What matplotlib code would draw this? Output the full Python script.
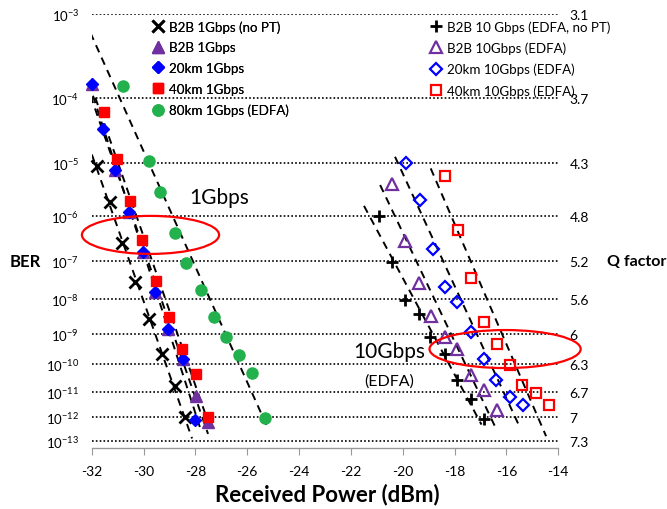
import numpy as np
import matplotlib
matplotlib.use('Agg')
import matplotlib.pyplot as plt
from matplotlib.patches import Ellipse

plt.rcParams['font.family'] = ['Lato', 'DejaVu Sans']
plt.rcParams['mathtext.fontset'] = 'custom'
plt.rcParams['mathtext.rm'] = 'Lato'
plt.rcParams['mathtext.it'] = 'Lato:italic'
plt.rcParams['mathtext.bf'] = 'Lato:bold'

# ---------------- data (BER given as log10 exponent) ----------------
b2b1_nopt_x   = [-31.81, -31.29, -30.84, -30.33, -29.78, -29.30, -28.78, -28.40]
b2b1_nopt_exp = [-5.05, -5.73, -6.59, -7.54, -8.56, -9.65, -10.76, -12.00]

b2b1_x   = [-32.00, -31.10, -30.55, -30.03, -29.56, -29.04, -28.46, -27.97, -27.50]
b2b1_exp = [-3.82, -5.13, -5.93, -6.79, -7.81, -8.86, -9.82, -11.14, -12.21]

km20_1_x   = [-32.00, -31.55, -31.10, -30.55, -30.03, -29.56, -29.04, -28.46, -28.01]
km20_1_exp = [-3.82, -4.46, -5.13, -5.93, -6.79, -7.81, -8.86, -9.82, -12.10]

km40_1_x   = [-31.52, -31.01, -30.52, -30.07, -29.53, -29.00, -28.53, -27.97, -27.50]
km40_1_exp = [-4.20, -4.94, -5.70, -6.52, -7.52, -8.51, -9.49, -10.34, -12.00]

km80_1_x   = [-30.80, -29.80, -29.35, -28.80, -28.35, -27.80, -27.30, -26.80, -26.30, -25.80, -25.30]
km80_1_exp = [-3.84, -4.98, -5.53, -6.37, -7.06, -7.74, -8.51, -9.11, -9.68, -10.31, -12.03]

b2b10_nopt_x   = [-20.90, -20.42, -19.90, -19.39, -18.94, -18.36, -17.91, -17.37, -16.88]
b2b10_nopt_exp = [-6.01, -7.03, -8.01, -8.41, -9.11, -9.65, -10.55, -11.27, -12.07]

b2b10_x   = [-20.42, -19.90, -19.39, -18.91, -18.36, -17.91, -17.36, -16.88, -16.36]
b2b10_exp = [-5.38, -6.54, -7.56, -8.46, -9.11, -9.47, -10.37, -10.91, -11.69]

km20_10_x   = [-19.86, -19.35, -18.83, -18.36, -17.91, -17.37, -16.88, -16.39, -15.85, -15.36]
km20_10_exp = [-5.01, -5.68, -6.73, -7.67, -8.08, -8.94, -9.82, -10.55, -11.20, -11.50]

km40_10_x   = [-18.36, -17.88, -17.37, -16.88, -16.36, -15.85, -15.40, -14.85, -14.37]
km40_10_exp = [-5.23, -6.30, -7.44, -8.64, -9.32, -10.02, -10.74, -11.04, -11.50]

labels = ['B2B 1Gbps (no PT)', 'B2B 1Gbps', '20km 1Gbps', '40km 1Gbps',
          '80km 1Gbps (EDFA)', 'B2B 10 Gbps (EDFA, no PT)', 'B2B 10Gbps (EDFA)',
          '20km 10Gbps (EDFA)', '40km 10Gbps (EDFA)']

ber_ticks = [1e-3, 1e-4, 1e-5, 1e-6, 1e-7, 1e-8, 1e-9, 1e-10, 1e-11, 1e-12, 1e-13]
ber_tick_labels = [r'$10^{-%d}$' % k for k in range(3, 14)]
q_labels = ['3.1', '3.7', '4.3', '4.8', '5.2', '5.6', '6', '6.3', '6.7', '7', '7.3']
x_ticks = [-32, -30, -28, -26, -24, -22, -20, -18, -16, -14]

# ---------------- scale (Q-factor scale: -log10(-log10(BER))) ----------------
def fwd(y):
    y = np.clip(np.asarray(y, dtype=float), 1e-300, 1 - 1e-12)
    return -np.log10(-np.log10(y))

def inv(u):
    u = np.asarray(u, dtype=float)
    return 10.0 ** (-(10.0 ** (-u)))

PURPLE = '#7030A0'
BLUE = '#0000FF'
RED = '#FF0000'
GREEN = '#22B14C'

fig = plt.figure(figsize=(6.67, 5.10), dpi=100)
ax = fig.add_axes([0.1375, 0.1196, 0.6995, 0.851])
ax.set_yscale('function', functions=(fwd, inv))
ax.set_xlim(-32, -14)
ax.set_ylim(10 ** -13.33, 1e-3)

series = [
    (b2b1_nopt_x, b2b1_nopt_exp, dict(marker='x', color='black', ms=8, mew=2.0, mfc='none'), (-3.9, -12.9)),
    (b2b1_x, b2b1_exp, dict(marker='^', color=PURPLE, ms=8.5, mec=PURPLE, mfc=PURPLE), (-3.8, -12.7)),
    (km20_1_x, km20_1_exp, dict(marker='D', color=BLUE, ms=6, mec=BLUE, mfc=BLUE), (-3.8, -12.5)),
    (km40_1_x, km40_1_exp, dict(marker='s', color=RED, ms=7.5, mec=RED, mfc=RED), (-4.0, -12.5)),
    (km80_1_x, km80_1_exp, dict(marker='o', color=GREEN, ms=8, mec=GREEN, mfc=GREEN), (-3.2, -12.4)),
    (b2b10_nopt_x, b2b10_nopt_exp, dict(marker='+', color='black', ms=9, mew=2.0), (-5.8, -12.3)),
    (b2b10_x, b2b10_exp, dict(marker='^', color=PURPLE, ms=9, mew=1.6, mec=PURPLE, mfc='none'), (-5.4, -12.4)),
    (km20_10_x, km20_10_exp, dict(marker='D', color=BLUE, ms=6.5, mew=1.6, mec=BLUE, mfc='none'), (-4.9, -12.3)),
    (km40_10_x, km40_10_exp, dict(marker='s', color=RED, ms=7.5, mew=1.6, mec=RED, mfc='none'), (-5.1, -12.8)),
]

handles = []
for (xs, ex, style, rng), lab in zip(series, labels):
    xs = np.array(xs)
    ber = 10.0 ** np.array(ex)
    h, = ax.plot(xs, ber, ls='none', zorder=3, label=lab, clip_on=False, **style)
    handles.append(h)
    # dashed trend line (straight in the Q-scale)
    coef = np.polyfit(fwd(ber), xs, 1)
    ber_line = 10.0 ** np.array(rng)
    x_line = np.polyval(coef, fwd(ber_line))
    ax.plot(x_line, ber_line, ls=(0, (4, 3)), color='black', lw=1.4, zorder=2)

# grid & axes styling
ax.set_yticks(ber_ticks)
ax.set_yticklabels(ber_tick_labels)
ax.yaxis.set_minor_locator(matplotlib.ticker.NullLocator())
ax.grid(axis='y', ls=(0, (1, 1.3)), color='black', lw=1.2)
ax.set_axisbelow(True)
for s in ['top', 'right', 'left']:
    ax.spines[s].set_visible(False)
ax.spines['bottom'].set_color('#999999')
ax.spines['bottom'].set_linewidth(1.0)
ax.set_xticks(x_ticks)
ax.set_xticklabels(['%d' % v for v in x_ticks])
ax.tick_params(axis='x', direction='out', length=5, color='#999999', labelsize=10, pad=7)
ax.tick_params(axis='y', length=0, labelsize=9.5, pad=9)

ax2 = ax.twinx()
ax2.set_yscale('function', functions=(fwd, inv))
ax2.set_ylim(ax.get_ylim())
ax2.set_yticks(ber_ticks)
ax2.set_yticklabels(q_labels)
ax2.yaxis.set_minor_locator(matplotlib.ticker.NullLocator())
ax2.tick_params(axis='y', length=0, labelsize=10, pad=8)
for s in ax2.spines.values():
    s.set_visible(False)

# ellipses
ax.add_patch(Ellipse((0.126, 0.491), 0.294, 0.0876, transform=ax.transAxes,
                     fill=False, ec='red', lw=1.6, clip_on=False, zorder=5))
ax.add_patch(Ellipse((0.886, 0.228), 0.324, 0.0876, transform=ax.transAxes,
                     fill=False, ec='red', lw=1.6, clip_on=False, zorder=5))

# annotations
ax.text(-27.08, 10 ** -5.62, '1Gbps', fontsize=15, ha='center', va='center', zorder=6)
ax.text(-20.52, 10 ** -9.54, '10Gbps', fontsize=15, ha='center', va='center', zorder=6)
ax.text(-20.52, 10 ** -10.56, '(EDFA)', fontsize=11.5, ha='center', va='center', zorder=6)

# legends
leg_kw = dict(loc='upper left', bbox_transform=fig.transFigure, frameon=False,
              fontsize=9.6, handlelength=0.8, handletextpad=0.45,
              labelspacing=0.66, borderpad=0, borderaxespad=0)
leg1 = fig.legend(handles[:5], labels[:5], bbox_to_anchor=(152.5 / 667, 1 - 21 / 510), **leg_kw)
leg2 = fig.legend(handles[5:], labels[5:], bbox_to_anchor=(430.5 / 667, 1 - 21 / 510), **leg_kw)
fig.add_artist(leg1)

fig.text(25 / 667, 1 - 262 / 510, 'BER', fontsize=12, fontweight='bold', ha='center', va='center')
fig.text(637 / 667, 1 - 262 / 510, 'Q factor', fontsize=11.5, fontweight='bold', ha='center', va='center')
fig.text(327 / 667, 1 - 495 / 510, 'Received Power (dBm)', fontsize=16, fontweight='bold',
         ha='center', va='center')

fig.savefig('out.png', dpi=100)
